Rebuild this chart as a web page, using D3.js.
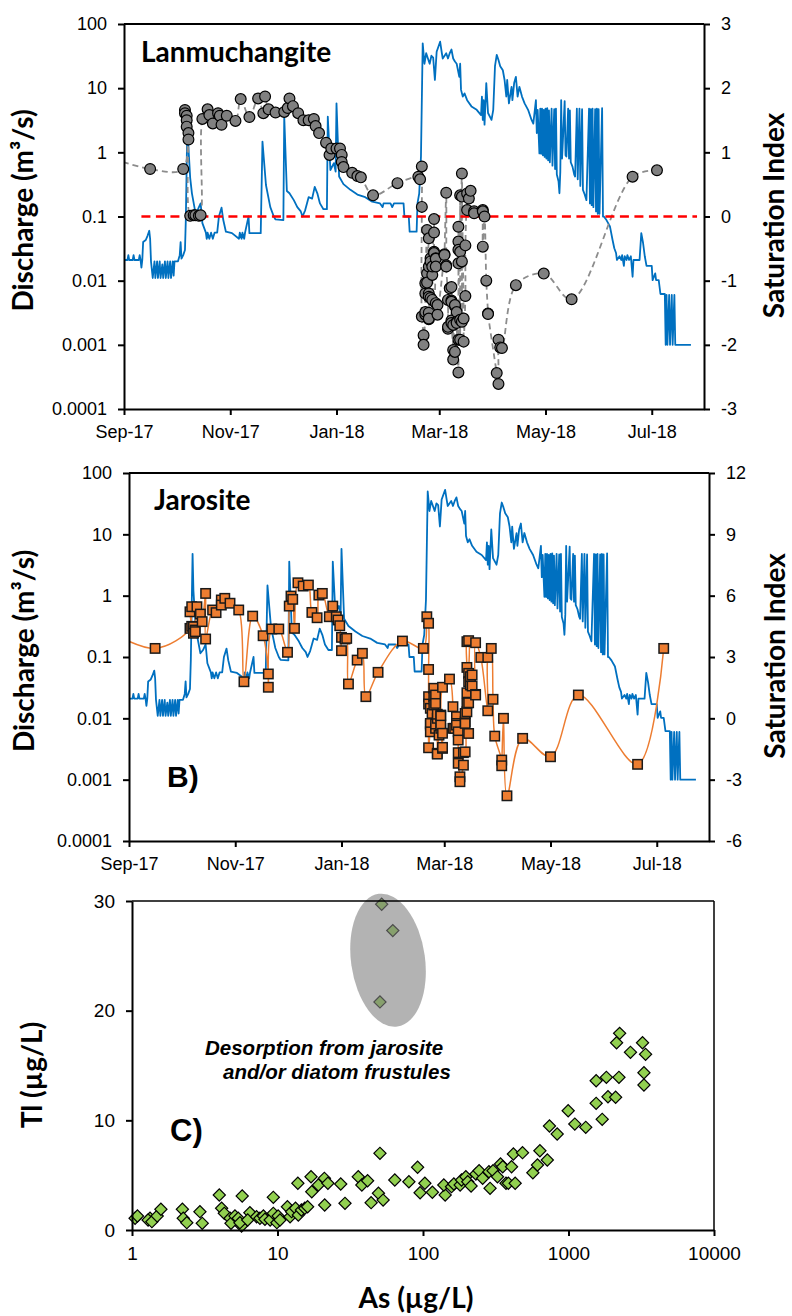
<!DOCTYPE html>
<html>
<head>
<meta charset="utf-8">
<script src="https://cdn.jsdelivr.net/npm/d3@7"></script>
<style>
  body { margin: 0; background: #fff; }
  svg { display: block; background: #fff; }
</style>
</head>
<body>
<svg id="chart" width="792" height="1316"></svg>
<script>
// ---------------- data ----------------
// Daily-ish stream discharge record (m3/s); "YYYY-MM-DD HH" where sub-daily
const discharge = [
["2017-09-01",0.021],["2017-09-03",0.021],["2017-09-03 12",0.025],["2017-09-04",0.021],
["2017-09-06",0.021],["2017-09-06 12",0.025],["2017-09-07",0.021],["2017-09-09 12",0.021],
["2017-09-10",0.025],["2017-09-10 12",0.021],["2017-09-11",0.016],["2017-09-11 12",0.021],
["2017-09-12",0.04],["2017-09-13 12",0.043],["2017-09-14 12",0.05],["2017-09-15 12",0.06],
["2017-09-16",0.045],["2017-09-16 12",0.02],["2017-09-17 12",0.011],["2017-09-18 12",0.02],
["2017-09-19",0.011],["2017-09-20",0.02],["2017-09-20 12",0.011],["2017-09-21 12",0.02],
["2017-09-22",0.011],["2017-09-23",0.018],["2017-09-23 12",0.011],["2017-09-24 12",0.02],
["2017-09-25",0.011],["2017-09-26",0.02],["2017-09-26 12",0.011],["2017-09-27 12",0.02],
["2017-09-28",0.011],["2017-09-29",0.02],["2017-09-29 12",0.012],["2017-09-30",0.02],
["2017-10-02",0.02],["2017-10-03",0.025],["2017-10-03 12",0.04],["2017-10-04",0.022],
["2017-10-05",0.025],["2017-10-06",0.03],["2017-10-06 12",0.09],["2017-10-07 12",4.8],
["2017-10-08",1.2],["2017-10-09",0.4],["2017-10-10",0.23],["2017-10-12",0.115],
["2017-10-13 12",0.13],["2017-10-15",0.16],["2017-10-16",0.079],["2017-10-18",0.056],
["2017-10-18 12",0.045],["2017-10-19",0.056],["2017-10-20",0.045],["2017-10-21",0.056],
["2017-10-22",0.045],["2017-10-23",0.056],["2017-10-24 12",0.056],["2017-10-25 12",0.1],
["2017-10-27",0.137],["2017-10-28",0.088],["2017-10-29 12",0.058],["2017-11-02",0.055],
["2017-11-06",0.045],["2017-11-06 12",0.056],["2017-11-07 12",0.045],["2017-11-08",0.056],
["2017-11-09",0.045],["2017-11-09 12",0.056],["2017-11-11 12",0.1],["2017-11-12",0.055],
["2017-11-18 12",0.055],["2017-11-19 12",1.47],["2017-11-21 12",0.31],["2017-11-24",0.14],
["2017-11-26",0.1],["2017-11-27",0.09],["2017-12-01 12",0.088],["2017-12-02",3.6],
["2017-12-03 12",0.25],["2017-12-05",0.23],["2017-12-07 12",0.18],["2017-12-09 12",0.14],
["2017-12-11 12",0.12],["2017-12-12 12",0.1],["2017-12-14",0.125],["2017-12-16",0.2],
["2017-12-18",0.19],["2017-12-19 12",0.29],["2017-12-21",0.23],["2017-12-22 12",0.16],
["2017-12-24 12",0.13],["2017-12-26 12",0.13],["2017-12-27",3.6],["2017-12-28 12",0.53],
["2017-12-30 12",0.68],["2017-12-31 12",0.5],["2018-01-01",5.8],["2018-01-02 12",0.42],
["2018-01-05",0.32],["2018-01-09",0.26],["2018-01-13",0.22],["2018-01-17 12",0.2],
["2018-01-21 12",0.17],["2018-01-26",0.16],["2018-01-27 12",0.14],["2018-01-28",0.16],
["2018-02-01",0.16],["2018-02-02",0.14],["2018-02-03",0.16],["2018-02-08 12",0.16],
["2018-02-09",0.1],["2018-02-11 12",0.1],["2018-02-12",0.058],["2018-02-16",0.058],
["2018-02-16 12",0.16],["2018-02-17 12",0.23],["2018-02-18 12",0.86],["2018-02-19 12",50],
["2018-02-20 12",24],["2018-02-21 12",35],["2018-02-23 12",24],["2018-02-24 12",32],
["2018-02-25 12",30],["2018-02-26 12",13.4],["2018-02-27 12",37],["2018-03-01 12",53],
["2018-03-02 12",35],["2018-03-03",29],["2018-03-05",35],["2018-03-06",29],
["2018-03-07",35],["2018-03-08",40],["2018-03-09",29],["2018-03-10",26],
["2018-03-11",24],["2018-03-12 12",15],["2018-03-13",24],["2018-03-13 12",9.4],
["2018-03-14 12",7.4],["2018-03-15 12",8.3],["2018-03-17",6.5],["2018-03-19 12",5.2],
["2018-03-22 12",4.6],["2018-03-25",3.8],["2018-03-25 12",7.4],["2018-03-26",3.2],
["2018-03-26 12",6.5],["2018-03-27",2.7],["2018-03-28",12],["2018-03-29",4.1],
["2018-03-31",3.2],["2018-04-01",4.6],["2018-04-02",22],["2018-04-03",33],
["2018-04-04",27.5],["2018-04-05",22],["2018-04-06 12",19],["2018-04-07 12",13.4],
["2018-04-08 12",7.4],["2018-04-09",13.4],["2018-04-10",5.8],["2018-04-11 12",10.5],
["2018-04-12",6.5],["2018-04-13",12],["2018-04-14",15],["2018-04-15",7.4],
["2018-04-16",10.5],["2018-04-17 12",7.4],["2018-04-19",5.8],["2018-04-21",4.6],
["2018-04-23",3.2],["2018-04-24",2.8],["2018-04-25 12",6.5],["2018-04-26",2.0],
["2018-04-26 12",4.6],["2018-04-27 12",0.96],["2018-04-28",4.8],["2018-04-28 12",0.95],
["2018-04-29",4.8],["2018-04-29 12",0.9],["2018-04-30",4.6],["2018-04-30 12",0.85],
["2018-05-01",4.8],["2018-05-01 12",0.8],["2018-05-02",4.9],["2018-05-02 12",0.75],
["2018-05-03",4.5],["2018-05-03 12",0.7],["2018-05-04 12",4.8],["2018-05-05",0.62],
["2018-05-06",4.7],["2018-05-06 12",0.55],["2018-05-07",4.8],["2018-05-07 12",0.45],
["2018-05-08 12",0.35],["2018-05-09",0.23],["2018-05-09 12",0.5],["2018-05-10",6.5],
["2018-05-10 12",0.8],["2018-05-11",1.55],["2018-05-12",6.3],["2018-05-12 12",0.9],
["2018-05-13",0.86],["2018-05-14",4.8],["2018-05-14 12",0.8],["2018-05-15",4.5],
["2018-05-15 12",0.7],["2018-05-16 12",0.6],["2018-05-17 12",0.45],["2018-05-18",0.42],
["2018-05-19",4.8],["2018-05-19 12",0.38],["2018-05-20 12",4.8],["2018-05-21",0.3],
["2018-05-22",4.7],["2018-05-22 12",0.26],["2018-05-23 12",0.22],["2018-05-24 12",0.18],
["2018-05-26",4.8],["2018-05-26 12",0.16],["2018-05-27",4.7],["2018-05-27 12",0.15],
["2018-05-28",4.8],["2018-05-28 12",0.14],["2018-05-29 12",4.7],["2018-05-30",0.12],
["2018-05-30 12",4.8],["2018-05-31",0.11],["2018-05-31 12",4.7],["2018-06-01",0.11],
["2018-06-02 12",4.9],["2018-06-03",0.1],["2018-06-03 12",0.1],["2018-06-05",0.088],
["2018-06-07",0.07],["2018-06-08 12",0.043],["2018-06-09 12",0.032],["2018-06-10 12",0.027],
["2018-06-11",0.021],["2018-06-12 12",0.024],["2018-06-13 12",0.021],["2018-06-14",0.025],
["2018-06-15",0.017],["2018-06-15 12",0.024],["2018-06-16 12",0.021],["2018-06-17",0.025],
["2018-06-18",0.021],["2018-06-19",0.024],["2018-06-20",0.0115],["2018-06-20 12",0.021],
["2018-06-24",0.021],["2018-06-25",0.055],["2018-06-26",0.039],["2018-06-27",0.024],
["2018-06-28",0.017],["2018-07-01",0.017],["2018-07-01 12",0.0102],["2018-07-03",0.013],
["2018-07-03 12",0.0102],["2018-07-05",0.0102],["2018-07-06",0.0062],["2018-07-08 12",0.0062],
["2018-07-09",0.001],["2018-07-09 12",0.006],["2018-07-10",0.001],["2018-07-11",0.006],
["2018-07-11 12",0.001],["2018-07-12 12",0.006],["2018-07-13",0.001],["2018-07-14",0.006],
["2018-07-14 12",0.001],["2018-07-23 12",0.001]
];

// Lanmuchangite saturation index of water samples
const lanSI = [
["2017-08-15",1.0],["2017-09-16",0.74],["2017-10-05",0.74],
["2017-10-06",1.66],["2017-10-06",1.61],["2017-10-07",1.57],["2017-10-07",1.5],["2017-10-07",1.4],
["2017-10-08",1.3],["2017-10-08",1.2],
["2017-10-09",0.01],["2017-10-11",0.02],["2017-10-12",0.02],["2017-10-14",0.01],["2017-10-15",0.02],
["2017-10-16",1.52],["2017-10-19",1.67],["2017-10-20",1.58],["2017-10-22",1.45],["2017-10-25",1.61],
["2017-10-26",1.57],["2017-10-27",1.43],["2017-10-30",1.57],["2017-11-04",1.49],["2017-11-07",1.83],
["2017-11-12",1.55],["2017-11-17",1.84],["2017-11-20",1.61],["2017-11-21",1.87],["2017-11-23",1.67],
["2017-11-27",1.62],["2017-12-02",1.63],["2017-12-04",1.69],["2017-12-05",1.84],["2017-12-07",1.72],
["2017-12-10",1.61],["2017-12-13",1.5],["2017-12-16",1.5],["2017-12-19",1.52],["2017-12-20",1.41],
["2017-12-22",1.3],["2017-12-26",1.15],["2017-12-28",0.96],["2017-12-29",1.06],["2018-01-01",1.06],
["2018-01-03",1.06],["2018-01-04",0.96],["2018-01-04",0.85],["2018-01-05",0.77],["2018-01-10",0.68],
["2018-01-13",0.63],["2018-01-15",0.61],["2018-01-22",0.33],["2018-02-05",0.52],["2018-02-17",0.62],
["2018-02-18",0.58],["2018-02-19",0.78],["2018-02-19",0.15],["2018-02-19",-1.56],
["2018-02-20",-1.85],["2018-02-20",-2.0],["2018-02-21",-1.53],["2018-02-21",-1.49],["2018-02-21",-1.2],
["2018-02-21",-1.04],["2018-02-22",-0.21],["2018-02-22",-0.89],["2018-02-22",-1.03],["2018-02-23",-0.34],
["2018-02-23",-0.78],["2018-02-23",-1.2],["2018-02-23",-1.25],["2018-02-23",-1.5],["2018-02-23",-1.6],
["2018-02-23",-1.59],["2018-02-24",-0.65],["2018-02-24",-0.7],["2018-02-24",-1.27],["2018-02-25",-1.3],
["2018-02-25",-0.91],["2018-02-25",-0.78],["2018-02-26",-0.04],["2018-02-26",-0.25],["2018-02-26",-0.55],
["2018-02-26",-0.57],["2018-02-27",-0.65],["2018-02-27",-0.66],["2018-02-27",-0.78],["2018-02-27",-1.35],
["2018-02-28",-1.38],["2018-02-28",-1.53],["2018-03-04",-0.59],["2018-03-04",-0.6],["2018-03-05",0.37],
["2018-03-05",-0.76],["2018-03-05",-0.78],["2018-03-06",-1.3],["2018-03-06",-1.75],["2018-03-06",-1.72],
["2018-03-07",-1.12],["2018-03-08",-1.1],["2018-03-08",-1.31],["2018-03-08",-1.33],["2018-03-08",-1.62],
["2018-03-08",-1.66],["2018-03-09",-2.08],["2018-03-09",-2.23],["2018-03-09",-1.69],["2018-03-10",-2.11],
["2018-03-10",-1.4],["2018-03-10",-1.38],["2018-03-11",-1.49],["2018-03-11",-1.64],["2018-03-11",-1.66],
["2018-03-12",-2.43],["2018-03-12",-1.92],["2018-03-12",-0.39],["2018-03-12",-0.16],["2018-03-12",-0.52],
["2018-03-12",-0.73],["2018-03-13",-1.61],["2018-03-13",-1.92],["2018-03-13",0.33],["2018-03-13",-0.55],
["2018-03-14",0.67],["2018-03-14",-1.64],["2018-03-14",-0.7],["2018-03-14",0.31],["2018-03-15",-1.59],
["2018-03-15",-1.95],["2018-03-16",-1.24],["2018-03-16",-0.45],["2018-03-17",0.36],["2018-03-17",0.1],
["2018-03-18",0.28],["2018-03-19",0.4],["2018-03-21",0.08],["2018-03-21",0.05],["2018-03-26",0.1],
["2018-03-26",0.08],["2018-03-26",-0.47],["2018-03-27",0.0],["2018-03-28",-1.0],["2018-03-29",-1.51],
["2018-03-29",-1.52],["2018-04-03",-2.44],["2018-04-04",-2.61],["2018-04-04",-1.92],["2018-04-05",-2.04],
["2018-04-06",-2.05],["2018-04-14",-1.07],["2018-04-30",-0.89],["2018-05-16",-1.29],["2018-06-20",0.62],
["2018-07-04",0.72]
];

// Equilibrium reference (SI = 0)
const siZero = [["2017-09-11",0],["2018-07-27",0]];

// Jarosite saturation index of water samples
const jarSI = [
["2017-08-15",4.5],["2017-09-16",3.42],["2017-10-06",4.4],["2017-10-06",5.21],["2017-10-07",5.46],
["2017-10-07",4.5],["2017-10-08",4.48],["2017-10-08",4.16],["2017-10-09",4.32],["2017-10-09",4.24],
["2017-10-10",5.46],["2017-10-12",5.1],["2017-10-13",4.73],["2017-10-15",6.11],["2017-10-15",3.88],
["2017-10-19",5.3],["2017-10-21",5.17],["2017-10-24",5.79],["2017-10-24",5.54],["2017-10-26",5.87],
["2017-10-29",5.63],["2017-11-03",5.3],["2017-11-06",1.79],["2017-11-11",5.0],["2017-11-17",4.04],
["2017-11-20",2.17],["2017-11-20",1.52],["2017-11-22",4.37],["2017-11-26",4.37],["2017-12-01",3.23],
["2017-12-02",5.49],["2017-12-03",5.98],["2017-12-04",5.82],["2017-12-05",4.4],["2017-12-07",6.63],
["2017-12-10",6.47],["2017-12-13",6.52],["2017-12-15",5.18],["2017-12-18",4.92],["2017-12-19",6.03],
["2017-12-21",6.11],["2017-12-25",4.97],["2017-12-27",5.49],["2017-12-29",4.97],["2017-12-30",4.81],
["2017-12-31",4.53],["2018-01-01",3.31],["2018-01-01",3.96],["2018-01-03",3.88],["2018-01-04",3.91],
["2018-01-05",1.68],["2018-01-10",2.85],["2018-01-13",3.18],["2018-01-15",1.06],["2018-01-22",2.25],
["2018-02-05",3.78],["2018-02-17",3.42],["2018-02-19",4.97],["2018-02-20",4.65],["2018-02-20",2.39],
["2018-02-20",1.06],["2018-02-20",0.7],["2018-02-20",-1.44],["2018-02-21",-0.33],["2018-02-21",0.49],
["2018-02-21",-0.25],["2018-02-21",-0.66],["2018-02-22",0.24],["2018-02-23",1.47],["2018-02-23",1.06],
["2018-02-23",0.65],["2018-02-24",1.14],["2018-02-24",0.73],["2018-02-24",-0.49],["2018-02-24",-0.28],
["2018-02-25",0.0],["2018-02-25",0.2],["2018-02-25",-1.71],["2018-02-25",-1.75],["2018-02-26",-0.82],
["2018-02-27",-0.49],["2018-02-27",0.16],["2018-02-27",0.11],["2018-02-27",-0.33],["2018-02-28",-1.47],
["2018-02-28",-0.73],["2018-02-28",-1.42],["2018-02-28",1.52],["2018-03-04",1.92],["2018-03-06",0.57],
["2018-03-06",-0.49],["2018-03-07",-0.49],["2018-03-08",0.08],["2018-03-08",-0.25],["2018-03-08",-0.33],
["2018-03-09",-0.66],["2018-03-09",-1.06],["2018-03-09",-1.68],["2018-03-09",-2.2],["2018-03-10",-2.86],
["2018-03-10",-3.1],["2018-03-12",-2.29],["2018-03-12",-1.68],["2018-03-13",-1.64],["2018-03-13",-0.17],
["2018-03-13",-0.25],["2018-03-13",0.24],["2018-03-14",0.32],["2018-03-14",0.73],["2018-03-14",1.25],
["2018-03-14",2.49],["2018-03-14",3.75],["2018-03-15",3.8],["2018-03-15",2.2],["2018-03-15",1.79],
["2018-03-15",0.76],["2018-03-15",-0.74],["2018-03-16",1.63],["2018-03-16",2.04],["2018-03-17",1.58],
["2018-03-17",2.12],["2018-03-19",1.17],["2018-03-19",1.14],["2018-03-19",3.7],["2018-03-22",2.98],
["2018-03-26",0.37],["2018-03-26",2.98],["2018-03-28",3.42],["2018-03-29",0.93],["2018-03-30",-0.87],
["2018-04-03",-2.04],["2018-04-03",-2.32],["2018-04-04",0.0],["2018-04-06",-3.79],["2018-04-15",-0.98],
["2018-05-01",-1.88],["2018-05-17",1.14],["2018-06-20",-2.25],["2018-07-05",3.42]
];

// Dissolved As vs Tl (µg/L)
const asTl = [
[1.05,1.07],[1.09,1.28],[1.33,1.07],[1.29,0.91],[1.37,0.76],[1.49,1.28],[1.58,1.89],[2.22,1.89],
[2.25,1.07],[2.38,0.67],[2.93,1.67],[3.04,0.61],[3.98,3.19],[4.13,1.98],[4.31,1.52],[4.72,1.07],
[4.79,0.61],[5.1,1.28],[5.37,1.07],[5.66,0.36],[5.72,3.1],[5.52,0.67],[6.46,1.58],[6.24,0.91],
[7.18,1.21],[7.57,1.07],[8.0,1.28],[8.2,0.98],[8.9,0.91],[9.36,2.98],[9.36,1.52],[9.9,0.67],
[10.1,1.28],[10.4,0.91],[11.7,2.12],[12.2,1.21],[12.5,1.67],[13.3,1.98],[13.9,1.37],[14.6,1.82],
[15.4,1.98],[16.1,2.12],[13.8,4.26],[17,4.86],[17.2,3.49],[19.1,4.1],[21,4.71],[22.2,4.26],
[21.1,2.28],[27.2,4.19],[29.1,2.43],[35.9,4.86],[38,4.1],[41.6,4.49],[44,2.49],[49.4,3.35],
[53.2,2.73],[50.6,6.99],[64,4.56],[80,4.4],[91.8,5.72],[95.5,3.4],[103,4.26],[116,3.44],
[142,3.19],[139,4.1],[157,3.95],[163,4.19],[180,4.1],[184,4.56],[197,4.86],[203,4.4],
[214,4.01],[231,5.1],[243,5.41],[257,4.71],[284,5.31],[289,3.8],[303,5.41],[325,4.86],
[341,6.02],[353,5.77],[372,4.26],[386,4.26],[406,5.77],[418,6.93],[430,4.26],[483,7.05],
[569,5.22],[612,5.93],[636,7.23],[715,6.38],[740,9.48],[836,8.75],[995,10.87],[1105,9.66],
[1314,9.36],[1549,11.55],[1705,10.09],[1868,12.15],[2108,12.1],[1549,13.61],[1821,13.92],[2222,13.92],
[2140,17.07],[2246,17.93],[2666,16.2],[3227,17.07],[3386,16.02],[3300,14.34],[3300,13.22],
[52,29.7],[62,27.3],[50.6,20.8]
];

// Axis ticks and labels
const dateTicks = ["2017-09-01","2017-11-01","2018-01-01","2018-03-01","2018-05-01","2018-07-01"];
const qTicks = [1e-4,1e-3,1e-2,1e-1,1,10,100];
const qTickLabels = ["0.0001","0.001","0.01","0.1","1","10","100"];
const lanTicks = [-3,-2,-1,0,1,2,3];
const lanTickLabels = ["-3","-2","-1","0","1","2","3"];
const jarTicks = [-6,-3,0,3,6,9,12];
const jarTickLabels = ["-6","-3","0","3","6","9","12"];
const asTicks = [1,10,100,1000,10000];
const asTickLabels = ["1","10","100","1000","10000"];
const tlTicks = [0,10,20,30];
const tlTickLabels = ["0","10","20","30"];

// ---------------- drawing ----------------
const svg = d3.select("#chart");
const TICK_FONT = '"Liberation Sans", Arial, Helvetica, sans-serif';
const TITLE_FONT = 'Lato, "Open Sans", sans-serif';
const hourParse = d3.timeParse("%Y-%m-%d %H");
const parse = s => hourParse(s.length === 10 ? s + " 00" : s);

function styleAxis(g, size) {
  g.attr("font-family", TICK_FONT).attr("font-size", size);
  g.select(".domain").attr("stroke", "#000").attr("stroke-width", 2);
  g.selectAll(".tick line").attr("stroke", "#000").attr("stroke-width", 2);
  g.selectAll(".tick text").attr("fill", "#000");
}

function timePanel(o) {
  const x = d3.scaleTime()
    .domain([parse("2017-09-01"), parse("2018-07-31")])
    .range([o.left, o.right]);
  const yQ = d3.scaleLog().domain([1e-4, 100]).range([o.bottom, o.top]);
  const yS = d3.scaleLinear().domain(o.siDomain).range([o.bottom, o.top]);

  const g = svg.append("g");
  g.append("clipPath").attr("id", o.id + "-clip")
    .append("rect").attr("x", o.left).attr("y", o.top)
    .attr("width", o.right - o.left).attr("height", o.bottom - o.top);
  const plot = g.append("g").attr("clip-path", `url(#${o.id}-clip)`);

  // discharge
  plot.append("path").datum(discharge)
    .attr("fill", "none").attr("stroke", "#0070C0").attr("stroke-width", 1.8)
    .attr("stroke-linejoin", "round")
    .attr("d", d3.line().x(d => x(parse(d[0]))).y(d => yQ(d[1])));

  // saturation index connector
  const siLine = d3.line().curve(d3.curveCatmullRom.alpha(0.5))
    .x(d => x(parse(d[0]))).y(d => yS(d[1]));
  plot.append("path").datum(o.si)
    .attr("fill", "none").attr("stroke", o.lineColor).attr("stroke-width", o.lineWidth)
    .attr("stroke-dasharray", o.dash || null)
    .attr("d", siLine);

  if (o.refLine) {
    plot.append("path").datum(o.refLine)
      .attr("fill", "none").attr("stroke", "#FF0000").attr("stroke-width", 2.4)
      .attr("stroke-dasharray", "9,5.5")
      .attr("d", d3.line().x(d => x(parse(d[0]))).y(d => yS(d[1])));
  }

  // markers
  const pts = plot.append("g");
  if (o.marker === "circle") {
    pts.selectAll("circle").data(o.si).join("circle")
      .attr("cx", d => x(parse(d[0]))).attr("cy", d => yS(d[1])).attr("r", 5.4)
      .attr("fill", "#808080").attr("stroke", "#000").attr("stroke-width", 1.2);
  } else {
    const s = 9.4;
    pts.selectAll("rect").data(o.si).join("rect")
      .attr("x", d => x(parse(d[0])) - s / 2).attr("y", d => yS(d[1]) - s / 2)
      .attr("width", s).attr("height", s)
      .attr("fill", "#ED7D31").attr("stroke", "#1a1a1a").attr("stroke-width", 1.5);
  }

  // frame top
  g.append("line").attr("x1", o.left).attr("x2", o.right).attr("y1", o.top).attr("y2", o.top)
    .attr("stroke", "#000").attr("stroke-width", 2);

  // axes
  const ax = g.append("g").attr("transform", `translate(0,${o.bottom})`)
    .call(d3.axisBottom(x).tickValues(dateTicks.map(parse))
      .tickFormat(d3.timeFormat("%b-%y")).tickSize(6).tickSizeOuter(0).tickPadding(10));
  styleAxis(ax, 18);
  const al = g.append("g").attr("transform", `translate(${o.left},0)`)
    .call(d3.axisLeft(yQ).tickValues(qTicks).tickFormat((d, i) => qTickLabels[i])
      .tickSize(6).tickSizeOuter(0).tickPadding(11));
  styleAxis(al, 18);
  const ar = g.append("g").attr("transform", `translate(${o.right},0)`)
    .call(d3.axisRight(yS).tickValues(o.siTicks).tickFormat((d, i) => o.siLabels[i])
      .tickSize(6).tickSizeOuter(0).tickPadding(11));
  styleAxis(ar, 18);

  // titles
  const mid = (o.top + o.bottom) / 2;
  g.append("text").attr("transform", `translate(${o.leftTitleX},${mid - 6}) rotate(-90)`)
    .attr("text-anchor", "middle").attr("font-family", TITLE_FONT).attr("font-weight", 700)
    .attr("font-size", 28).text("Discharge (m³/s)");
  g.append("text").attr("transform", `translate(${o.rightTitleX},${mid - 1}) rotate(-90)`)
    .attr("text-anchor", "middle").attr("font-family", TITLE_FONT).attr("font-weight", 700)
    .attr("font-size", 28).text("Saturation Index");
  g.append("text").attr("x", o.nameX).attr("y", o.nameY)
    .attr("font-family", TITLE_FONT).attr("font-weight", 700).attr("font-size", 28)
    .text(o.name);
}

timePanel({
  id: "lan", left: 124, right: 704, top: 24, bottom: 409,
  siDomain: [-3, 3], siTicks: lanTicks, siLabels: lanTickLabels,
  si: lanSI, marker: "circle", lineColor: "#8c8c8c", lineWidth: 1.8, dash: "6,4",
  refLine: siZero, name: "Lanmuchangite", nameX: 141, nameY: 62,
  leftTitleX: 33, rightTitleX: 784
});

timePanel({
  id: "jar", left: 129, right: 709, top: 473, bottom: 841,
  siDomain: [-6, 12], siTicks: jarTicks, siLabels: jarTickLabels,
  si: jarSI, marker: "square", lineColor: "#ED7D31", lineWidth: 1.5,
  name: "Jarosite", nameX: 154, nameY: 510,
  leftTitleX: 34, rightTitleX: 785
});

svg.append("text").attr("x", 167).attr("y", 787)
  .attr("font-family", TICK_FONT).attr("font-weight", 700).attr("font-size", 30).text("B)");

// ---------- As vs Tl scatter ----------
(function () {
  const L = 132, R = 714, T = 901, B = 1230;
  const x = d3.scaleLog().domain([1, 10000]).range([L, R]);
  const y = d3.scaleLinear().domain([0, 30]).range([B, T]);
  const g = svg.append("g");

  const diamond = d3.symbol(d3.symbolSquare, 74);
  g.append("g").selectAll("path").data(asTl).join("path")
    .attr("d", diamond)
    .attr("transform", d => `translate(${x(d[0])},${y(d[1])}) rotate(45)`)
    .attr("fill", "#92D050").attr("stroke", "#000").attr("stroke-width", 1.2);

  // highlighted group of outliers
  g.append("ellipse")
    .attr("transform", `translate(${x(57.5)},${y(24.6)}) rotate(-8)`)
    .attr("rx", 37).attr("ry", 67)
    .attr("fill", "#808080").attr("fill-opacity", 0.6);

  g.append("line").attr("x1", L).attr("x2", R).attr("y1", T).attr("y2", T)
    .attr("stroke", "#000").attr("stroke-width", 1.5);
  g.append("line").attr("x1", R).attr("x2", R).attr("y1", T).attr("y2", B)
    .attr("stroke", "#000").attr("stroke-width", 1.5);

  const ax = g.append("g").attr("transform", `translate(0,${B})`)
    .call(d3.axisBottom(x).tickValues(asTicks).tickFormat((d, i) => asTickLabels[i])
      .tickSize(6).tickSizeOuter(0).tickPadding(10.5));
  styleAxis(ax, 19);
  const al = g.append("g").attr("transform", `translate(${L},0)`)
    .call(d3.axisLeft(y).tickValues(tlTicks).tickFormat((d, i) => tlTickLabels[i])
      .tickSize(6).tickSizeOuter(0).tickPadding(11));
  styleAxis(al, 19);

  g.append("text").attr("transform", `translate(42,1075) rotate(-90)`)
    .attr("text-anchor", "middle").attr("font-family", TITLE_FONT).attr("font-weight", 700)
    .attr("font-size", 28).text("Tl (µg/L)");
  g.append("text").attr("x", 416).attr("y", 1308)
    .attr("text-anchor", "middle").attr("font-family", TITLE_FONT).attr("font-weight", 700)
    .attr("font-size", 28).text("As (µg/L)");

  g.append("text").attr("x", 205).attr("y", 1055)
    .attr("font-family", TICK_FONT).attr("font-weight", 700).attr("font-style", "italic")
    .attr("font-size", 20.5).text("Desorption from jarosite");
  g.append("text").attr("x", 223).attr("y", 1079)
    .attr("font-family", TICK_FONT).attr("font-weight", 700).attr("font-style", "italic")
    .attr("font-size", 20.5).text("and/or diatom frustules");

  g.append("text").attr("x", 170).attr("y", 1141)
    .attr("font-family", TICK_FONT).attr("font-weight", 700).attr("font-size", 31).text("C)");
})();
</script>
</body>
</html>
